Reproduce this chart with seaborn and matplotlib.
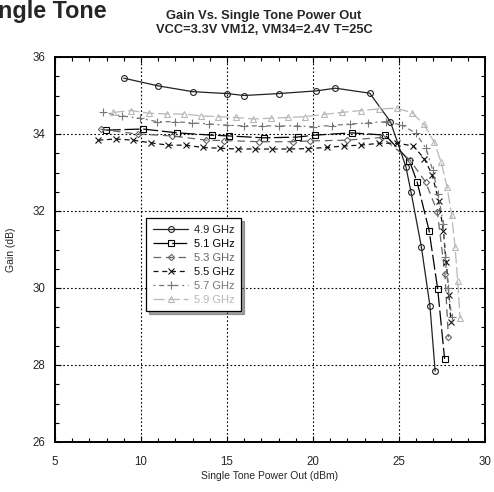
import matplotlib
matplotlib.use("Agg")
import matplotlib.pyplot as plt
import seaborn as sns
import pandas as pd
from matplotlib.ticker import MultipleLocator

# ---------------- data ----------------
labels = ["4.9 GHz", "5.1 GHz", "5.3 GHz", "5.5 GHz", "5.7 GHz", "5.9 GHz"]

x49 = [9, 11, 13, 15, 16, 18, 20.2, 21.3, 23.3, 24.5, 25.4, 25.7, 26.3, 26.8, 27.1]
y49 = [35.45, 35.25, 35.1, 35.05, 35.0, 35.05, 35.12, 35.19, 35.06, 34.32, 33.15, 32.49, 31.07, 29.53, 27.84]

x51 = [7.95, 10.1, 12.1, 14.1, 15.1, 17.15, 19.1, 20.1, 22.25, 24.2, 25.6, 26.05, 26.75, 27.25, 27.65]
y51 = [34.1, 34.13, 34.03, 33.97, 33.95, 33.9, 33.92, 33.97, 34.03, 33.97, 33.31, 32.76, 31.49, 29.97, 28.16]

x53 = [7.65, 9.8, 11.8, 13.8, 14.8, 16.85, 18.85, 19.85, 21.95, 24.0, 25.64, 26.55, 27.23, 27.67, 27.87]
y53 = [34.12, 34.0, 33.95, 33.84, 33.83, 33.8, 33.8, 33.82, 33.84, 33.91, 33.32, 32.75, 31.98, 30.36, 28.72]

x55 = [7.52, 8.55, 9.55, 10.56, 11.59, 12.6, 13.58, 14.59, 15.62, 16.63, 17.63, 18.62, 19.7,
       20.8, 21.82, 22.79, 23.86, 24.9, 25.83, 26.47, 26.93, 27.3, 27.58, 27.75, 27.9, 28.02]
y55 = [33.84, 33.87, 33.84, 33.77, 33.71, 33.71, 33.65, 33.63, 33.61, 33.61, 33.61, 33.61, 33.62,
       33.65, 33.69, 33.71, 33.76, 33.76, 33.69, 33.36, 32.94, 32.27, 31.49, 30.67, 29.82, 29.12]

x57 = [7.81, 8.88, 9.94, 10.95, 11.98, 12.94, 13.97, 14.98, 16.0, 17.02, 18.04, 19.05,
       20.02, 21.08, 22.15, 23.22, 24.22, 25.19, 25.97, 26.57, 26.96, 27.28, 27.58, 27.67, 27.87, 28.06]
y57 = [34.56, 34.47, 34.41, 34.32, 34.32, 34.29, 34.26, 34.23, 34.21, 34.21, 34.21, 34.21,
       34.19, 34.22, 34.26, 34.29, 34.32, 34.23, 34.02, 33.63, 33.06, 32.44, 31.66, 30.81, 29.99, 29.25]

x59 = [8.39, 9.42, 10.47, 11.49, 12.5, 13.49, 14.49, 15.52, 16.53, 17.54, 18.56, 19.56,
       20.64, 21.67, 22.77, 23.84, 24.87, 25.77, 26.45, 27.03, 27.46, 27.79, 28.06, 28.26, 28.41, 28.55]
y59 = [34.56, 34.61, 34.54, 34.52, 34.52, 34.47, 34.45, 34.43, 34.39, 34.41, 34.43, 34.45,
       34.51, 34.56, 34.61, 34.65, 34.67, 34.55, 34.25, 33.8, 33.26, 32.63, 31.9, 31.06, 30.19, 29.21]

xs = [x49, x51, x53, x55, x57, x59]
ys = [y49, y51, y53, y55, y57, y59]

colors = ["#222222", "#000000", "#666666", "#111111", "#777777", "#b8b8b8"]
markers = ["o", "s", "D", "x", "+", "^"]
msizes = [4.2, 5.0, 3.2, 5.0, 6.0, 5.0]
styles = ["-", (0, (12, 3)), (0, (6, 4)), (0, (4, 3)), (0, (1.5, 3, 4, 3)), (0, (9, 3))]

# ---------------- plot ----------------
sns.set_theme(style="white")
plt.rcParams["font.family"] = ["Liberation Sans", "DejaVu Sans"]

fig = plt.figure(figsize=(4.94, 4.92), dpi=100)
ax = fig.add_axes([55 / 494, 50 / 492, 430 / 494, 385 / 492])

for lab, x, y, c, m, ms, ls in zip(labels, xs, ys, colors, markers, msizes, styles):
    df = pd.DataFrame({"x": x, "y": y})
    sns.lineplot(data=df, x="x", y="y", ax=ax, sort=False, estimator=None,
                 color=c, marker=m, markersize=ms, linewidth=0.9, linestyle=ls,
                 markerfacecolor="none", markeredgecolor=c, markeredgewidth=0.8,
                 label=lab)

ax.set_xlim(5, 30)
ax.set_ylim(26, 36)
ax.xaxis.set_major_locator(MultipleLocator(5))
ax.xaxis.set_minor_locator(MultipleLocator(1))
ax.yaxis.set_major_locator(MultipleLocator(2))
ax.yaxis.set_minor_locator(MultipleLocator(0.5))
ax.tick_params(which="both", direction="in", top=True, right=True, bottom=True, left=True,
               color="black", labelsize=8.3)
ax.tick_params(axis="x", pad=10)
ax.tick_params(axis="y", pad=7)
ax.tick_params(which="major", length=4, width=0.8)
ax.tick_params(which="minor", length=3, width=0.8)
for sp in ax.spines.values():
    sp.set_color("black")
    sp.set_linewidth(1.4)
ax.grid(True, which="major", color="black", linestyle=(0, (1.5, 2)), linewidth=0.8)
ax.set_axisbelow(True)

ax.set_xlabel("Single Tone Power Out (dBm)", fontsize=7.5, labelpad=2)
ax.set_ylabel("Gain (dB)", fontsize=7.5, labelpad=12)

leg = ax.legend(loc="upper left", bbox_to_anchor=(0.212, 0.582), borderaxespad=0,
                fancybox=False, shadow=True, edgecolor="black", framealpha=1,
                fontsize=8, handlelength=3.2, labelspacing=0.36, handletextpad=0.5,
                borderpad=0.6)
leg.get_frame().set_linewidth(0.9)
for t, c in zip(leg.get_texts(), colors):
    t.set_color(c)

fig.text(264 / 494, 1 - 23 / 492, "Gain Vs. Single Tone Power Out\nVCC=3.3V VM12, VM34=2.4V T=25C",
         ha="center", va="center", fontsize=9.3, fontweight="bold", linespacing=1.2)
fig.text(107 / 494, 1 - 18 / 492, "Single Tone", ha="right", va="baseline",
         fontsize=16.8, fontweight="bold")

fig.savefig("out.png", dpi=100)
